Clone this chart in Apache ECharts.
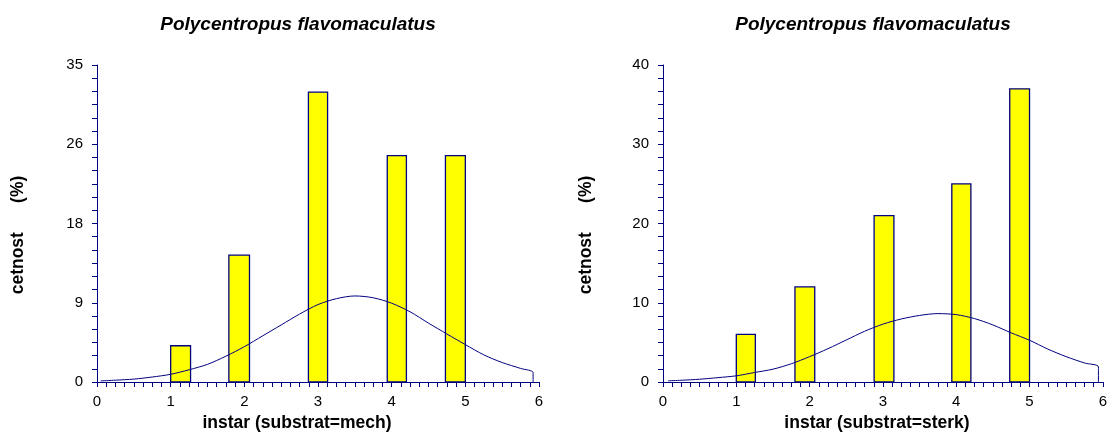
<!DOCTYPE html>
<html>
<head>
<meta charset="utf-8">
<script src="https://cdn.jsdelivr.net/npm/echarts@6/dist/echarts.min.js"></script>
<style>html,body{margin:0;padding:0;background:#fff}#c{width:1110px;height:432px}</style>
</head>
<body>
<div id="c"></div>
<script>
// ---- data ----
var titleText = 'Polycentropus flavomaculatus';
var yName = 'cetnost      (%)';
var xNameLeft = 'instar (substrat=mech)';
var xNameRight = 'instar (substrat=sterk)';

var leftBarStart = [1.0, 1.79, 2.87, 3.94, 4.73];
var leftBarEnd   = [1.27, 2.07, 3.13, 4.2, 5.0];
var leftBarVal   = [4, 14, 32, 25, 25];

var rightBarStart = [1.0, 1.8, 2.88, 3.94, 4.73];
var rightBarEnd   = [1.26, 2.07, 3.15, 4.2, 5.0];
var rightBarVal   = [6, 12, 21, 25, 37];

var leftCurveX = [0.05, 0.25, 0.5, 0.75, 1.0, 1.25, 1.5, 1.75, 2.0, 2.25, 2.5, 2.75, 3.0, 3.25, 3.5, 3.75, 4.0, 4.25, 4.5, 4.75, 5.0, 5.25, 5.5, 5.75, 5.92, 5.92];
var leftCurveY = [0.12, 0.2, 0.32, 0.55, 0.85, 1.35, 1.95, 2.85, 3.9, 5.1, 6.3, 7.5, 8.55, 9.2, 9.5, 9.3, 8.7, 7.75, 6.5, 5.3, 4.13, 3.0, 2.15, 1.5, 1.04, 0];

var rightCurveX = [0.07, 0.25, 0.5, 0.75, 1.0, 1.25, 1.5, 1.75, 2.0, 2.25, 2.5, 2.75, 3.0, 3.25, 3.5, 3.75, 4.0, 4.25, 4.5, 4.75, 5.0, 5.25, 5.5, 5.75, 5.94, 5.94];
var rightCurveY = [0.15, 0.22, 0.35, 0.55, 0.78, 1.2, 1.62, 2.3, 3.2, 4.2, 5.3, 6.4, 7.3, 7.95, 8.4, 8.63, 8.5, 8.0, 7.2, 6.2, 5.27, 4.15, 3.2, 2.4, 1.9, 0];

var xTicksMax = 6;
var leftYMax = 35, leftYStep = 8.75;
var rightYMax = 40, rightYStep = 10;

// ---- chart ----
var navy = '#000080';
var font = '"Liberation Sans", Arial, sans-serif';

function bars(s, e, v) { return s.map(function (x, i) { return [x, e[i], v[i]]; }); }
function pts(xs, ys) { return xs.map(function (x, i) { return [x, ys[i]]; }); }

function xAxis(idx) {
  return {
    type: 'value', gridIndex: idx, min: 0, max: xTicksMax, interval: 1,
    axisLine: { show: true, onZero: false, lineStyle: { color: navy, width: 1 } },
    axisTick: { show: true, length: 5, lineStyle: { color: navy } },
    minorTick: { show: true, splitNumber: 8, length: 5, lineStyle: { color: navy } },
    splitLine: { show: false },
    axisLabel: { color: '#000', fontSize: 15, fontFamily: font, margin: 12 }
  };
}
function yAxis(idx, max, step) {
  return {
    type: 'value', gridIndex: idx, min: 0, max: max, interval: step,
    axisLine: { show: true, lineStyle: { color: navy, width: 1 } },
    axisTick: { show: true, length: 5, lineStyle: { color: navy } },
    minorTick: { show: true, splitNumber: 6, length: 5, lineStyle: { color: navy } },
    splitLine: { show: false },
    axisLabel: { color: '#000', fontSize: 15, fontFamily: font, margin: 14,
      formatter: function (v) { return String(Math.round(v)); } }
  };
}
function renderBar(params, api) {
  var p0 = api.coord([api.value(0), api.value(2)]);
  var p1 = api.coord([api.value(1), 0]);
  return { type: 'rect',
    shape: { x: p0[0], y: p0[1], width: p1[0] - p0[0], height: p1[1] - p0[1] },
    style: { fill: '#ffff00', stroke: navy, lineWidth: 1.3 } };
}

var chart = echarts.init(document.getElementById('c'), null, { renderer: 'canvas' });
chart.setOption({
  animation: false,
  backgroundColor: '#fff',
  grid: [
    { left: 97, top: 65, width: 442, height: 317 },
    { left: 663, top: 65, width: 443, height: 317 }
  ],
  xAxis: [xAxis(0), xAxis(1)],
  yAxis: [yAxis(0, leftYMax, leftYStep), yAxis(1, rightYMax, rightYStep)],
  graphic: [
    { type: 'text', x: 298, y: 25, style: { text: titleText, font: 'italic bold 19px ' + font, fill: '#000', align: 'center', verticalAlign: 'middle' } },
    { type: 'text', x: 873, y: 25, style: { text: titleText, font: 'italic bold 19px ' + font, fill: '#000', align: 'center', verticalAlign: 'middle' } },
    { type: 'text', x: 297, y: 423, style: { text: xNameLeft, font: 'bold 17.5px ' + font, fill: '#000', align: 'center', verticalAlign: 'middle' } },
    { type: 'text', x: 877, y: 423, style: { text: xNameRight, font: 'bold 17.5px ' + font, fill: '#000', align: 'center', verticalAlign: 'middle' } },
    { type: 'text', x: 18, y: 235, rotation: Math.PI / 2, style: { text: yName, font: 'bold 17.5px ' + font, fill: '#000', align: 'center', verticalAlign: 'middle' } },
    { type: 'text', x: 586, y: 235, rotation: Math.PI / 2, style: { text: yName, font: 'bold 17.5px ' + font, fill: '#000', align: 'center', verticalAlign: 'middle' } }
  ],
  series: [
    { type: 'custom', xAxisIndex: 0, yAxisIndex: 0, renderItem: renderBar,
      encode: { x: [0, 1], y: 2 }, data: bars(leftBarStart, leftBarEnd, leftBarVal), z: 2 },
    { type: 'custom', xAxisIndex: 1, yAxisIndex: 1, renderItem: renderBar,
      encode: { x: [0, 1], y: 2 }, data: bars(rightBarStart, rightBarEnd, rightBarVal), z: 2 },
    { type: 'line', xAxisIndex: 0, yAxisIndex: 0, data: pts(leftCurveX, leftCurveY),
      showSymbol: false, smooth: 0.3, lineStyle: { color: navy, width: 1 }, z: 3 },
    { type: 'line', xAxisIndex: 1, yAxisIndex: 1, data: pts(rightCurveX, rightCurveY),
      showSymbol: false, smooth: 0.3, lineStyle: { color: navy, width: 1 }, z: 3 }
  ]
});
</script>
</body>
</html>
